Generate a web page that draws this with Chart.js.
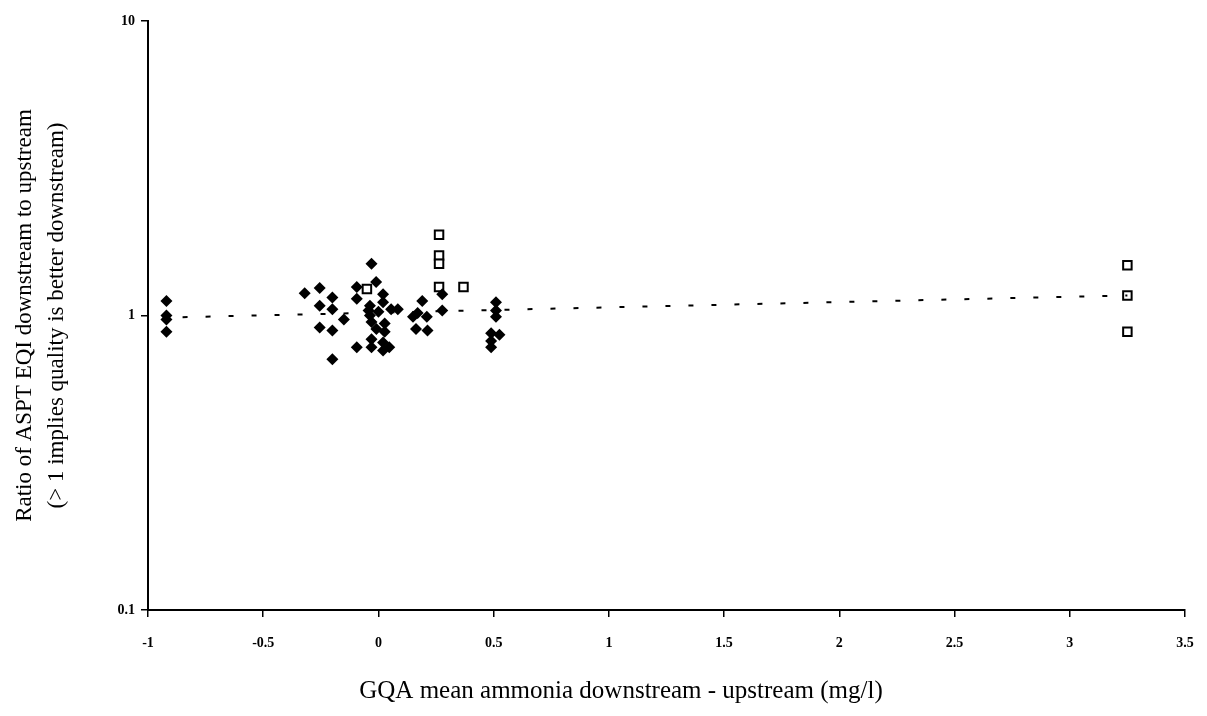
<!DOCTYPE html>
<html lang="en">
  <head>
    <meta charset="UTF-8" />
    <title>ASPT EQI ratio vs ammonia</title>
    <style>
      body,
      html {
        margin: 0;
        background: #fff;
      }
      #chart {
        display: block;
      }
    </style>
  </head>
  <body>
    <canvas id="chart" width="1207" height="716"></canvas>

    <script src="https://cdn.jsdelivr.net/npm/chart.js"></script>

    <script>
      // filled diamonds: ammonia difference (mg/l) and EQI ratio
      const filledX = [
        -0.92, -0.92, -0.92, -0.92,
        -0.32, -0.255, -0.255, -0.2, -0.2, -0.255, -0.2, -0.15, -0.2,
        -0.03, -0.01, -0.094, -0.094, 0.02, 0.02, -0.037, -0.037, 0.0, 0.055,
        0.084, -0.03, 0.027, 0.027, -0.009, -0.094, -0.03, -0.03, 0.02, 0.02,
        0.047, -0.043,
        0.19, 0.15, 0.21, 0.163, 0.213, 0.17, 0.277, 0.277,
        0.51, 0.51, 0.51, 0.489, 0.525, 0.489, 0.489
      ];
      const filledY = [
        1.12, 1.0, 0.97, 0.88,
        1.19, 1.24, 1.08, 1.15, 1.05, 0.91, 0.89, 0.97, 0.71,
        1.5, 1.3, 1.25, 1.14, 1.18, 1.11, 1.08, 1.0, 1.03, 1.05,
        1.05, 0.95, 0.94, 0.88, 0.9, 0.78, 0.83, 0.78, 0.81, 0.76,
        0.78, 1.04,
        1.12, 0.99, 0.99, 0.9, 0.89, 1.02, 1.18, 1.04,
        1.11, 1.04, 0.99, 0.87, 0.86, 0.78, 0.82
      ];

      // open squares
      const openX = [-0.05, 0.263, 0.263, 0.263, 0.263, 0.369, 3.25, 3.25, 3.25];
      const openY = [1.23, 1.88, 1.6, 1.5, 1.25, 1.25, 1.48, 1.17, 0.88];

      // dotted trend line end points
      const trendX = [-0.85, 3.25];
      const trendY = [0.987, 1.17];

      const xTicks = [-1, -0.5, 0, 0.5, 1, 1.5, 2, 2.5, 3, 3.5];
      const yTicks = [0.1, 1, 10];

      const xTitle = "GQA mean ammonia downstream - upstream (mg/l)";

      const toPoints = (xs, ys) => xs.map((x, i) => ({ x: x, y: ys[i] }));

      const tickFont = { family: "Liberation Serif", size: 14, weight: "bold" };
      const titleFont = { family: "Liberation Serif", size: 23, lineHeight: 1.4 };

      // x axis title sits a bit left of the plot centre in the original
      const xTitlePlugin = {
        id: "xTitle",
        afterDraw(chart) {
          const c = chart.ctx;
          c.save();
          c.font = '25px "Liberation Serif"';
          c.fillStyle = "#000";
          c.textAlign = "center";
          c.textBaseline = "middle";
          c.fillText(xTitle, 621, 691);
          c.restore();
        },
      };

      const ctx = document.getElementById("chart").getContext("2d");

      new Chart(ctx, {
        type: "scatter",
        data: {
          datasets: [
            {
              type: "line",
              data: toPoints(trendX, trendY),
              borderColor: "#000",
              borderWidth: 2,
              borderDash: [5, 18],
              pointRadius: 0,
              fill: false,
            },
            {
              data: toPoints(filledX, filledY),
              pointStyle: "rectRot",
              pointRadius: 6,
              backgroundColor: "#000",
              borderColor: "#000",
              borderWidth: 0,
            },
            {
              data: toPoints(openX, openY),
              pointStyle: "rect",
              pointRadius: 6,
              backgroundColor: "#fff",
              borderColor: "#000",
              borderWidth: 2,
            },
          ],
        },
        plugins: [xTitlePlugin],
        options: {
          responsive: false,
          animation: false,
          layout: { padding: { top: 21, right: 22, left: 0, bottom: 0 } },
          plugins: {
            legend: { display: false },
            tooltip: { enabled: false },
          },
          scales: {
            x: {
              type: "linear",
              min: -1,
              max: 3.5,
              afterBuildTicks: (scale) => {
                scale.ticks = xTicks.map((v) => ({ value: v }));
              },
              afterFit: (scale) => {
                scale.height = 106;
                scale.paddingRight = 0;
                scale.paddingLeft = 0;
              },
              ticks: {
                color: "#000",
                font: tickFont,
                padding: 18,
                maxRotation: 0,
                callback: (v) => String(v),
              },
              grid: {
                drawOnChartArea: false,
                drawTicks: true,
                tickLength: 7,
                color: "#000",
                lineWidth: 1.5,
              },
              border: { display: true, color: "#000", width: 2 },
            },
            y: {
              type: "logarithmic",
              min: 0.1,
              max: 10,
              afterBuildTicks: (scale) => {
                scale.ticks = yTicks.map((v) => ({ value: v }));
              },
              afterFit: (scale) => {
                scale.width = 148;
              },
              ticks: {
                color: "#000",
                font: tickFont,
                padding: 6,
                callback: (v) => String(v),
              },
              grid: {
                drawOnChartArea: false,
                drawTicks: true,
                tickLength: 7,
                color: "#000",
                lineWidth: 1.5,
              },
              border: { display: true, color: "#000", width: 2 },
              title: {
                display: true,
                text: [
                  "Ratio of ASPT EQI downstream to upstream",
                  "(> 1 implies quality is better downstream)",
                ],
                color: "#000",
                font: titleFont,
                padding: { top: 9, bottom: 0 },
              },
            },
          },
        },
      });
    </script>
  </body>
</html>
